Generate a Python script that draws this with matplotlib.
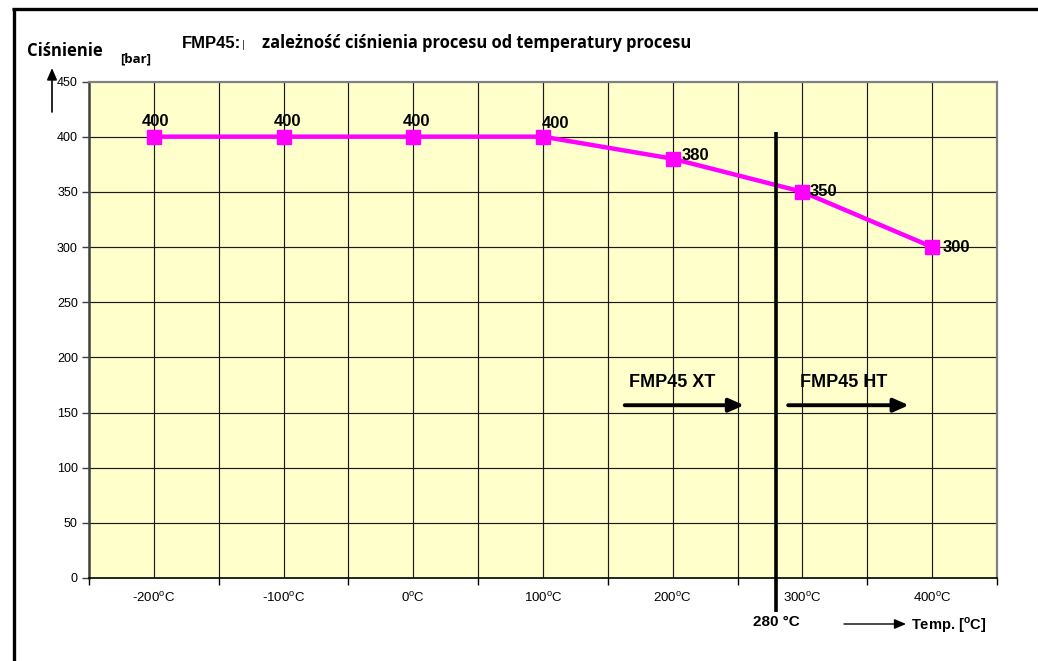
import matplotlib
matplotlib.use("Agg")
import matplotlib.pyplot as plt
from matplotlib.lines import Line2D

# Process pressure vs. process temperature for FMP45
temperatures = [-200, -100, 0, 100, 200, 300, 400]
pressures = [400, 400, 400, 400, 380, 350, 300]
x_tick_values = [-200, -100, 0, 100, 200, 300, 400]
y_tick_values = [0, 50, 100, 150, 200, 250, 300, 350, 400, 450]
limit_temperature = 280

plt.rcParams["font.family"] = ["Liberation Sans", "DejaVu Sans"]
plt.rcParams["mathtext.fontset"] = "custom"
plt.rcParams["mathtext.rm"] = "Liberation Sans"
plt.rcParams["mathtext.bf"] = "Liberation Sans:bold"

W, H = 1038, 661
fig = plt.figure(figsize=(W / 100, H / 100), dpi=100)
fig.patch.set_facecolor("white")

L, R, T, B = 89, 997, 81.5, 578
ax = fig.add_axes([L / W, 1 - B / H, (R - L) / W, (B - T) / H])
ax.set_facecolor("#FFFFCC")
ax.set_xlim(-250, 450)
ax.set_ylim(0, 450)

# grid: every 50 bar and every 50 °C
for yv in y_tick_values[1:-1]:
    ax.axhline(yv, color="#1a1a1a", lw=0.85, zorder=1)
for xv in range(-200, 450, 50):
    ax.axvline(xv, color="#1a1a1a", lw=0.85, zorder=1)

for s in ("top", "right"):
    ax.spines[s].set_color("#808080")
    ax.spines[s].set_linewidth(1.6)
ax.spines["left"].set_color("#404040")
ax.spines["left"].set_linewidth(1.8)
ax.spines["bottom"].set_color("#000000")
ax.spines["bottom"].set_linewidth(1.2)

ax.set_yticks(y_tick_values)
ax.set_yticklabels([str(v) for v in y_tick_values], fontsize=9)
ax.tick_params(axis="y", direction="out", length=5, width=1, color="#404040", pad=3)

# category boundaries carry the x ticks, labels sit at category centres
ax.set_xticks([v + 50 for v in [-300] + x_tick_values])
ax.set_xticklabels([])
ax.tick_params(axis="x", direction="out", length=5, width=1, color="#000000")
for tv in x_tick_values:
    ax.text(tv, -12, f"{tv}" + r"$^{\mathregular{o}}$" + "C", ha="center", va="top",
            fontsize=9.5, transform=ax.transData, clip_on=False)

ax.plot(temperatures, pressures, color="#FF00FF", lw=3.2, marker="s",
        markersize=9.5, markerfacecolor="#FF00FF", markeredgecolor="#FF00FF",
        zorder=5, clip_on=False)

label_offsets = [(2, 15, "center"), (4, 15, "center"), (3, 15, "center"),
                 (13, 13, "center"), (9, 3, "left"), (7, 0, "left"), (10, 0, "left")]
for tv, pv, (dx, dy, ha) in zip(temperatures, pressures, label_offsets):
    ax.annotate(str(pv), (tv, pv), xytext=(dx, dy), textcoords="offset pixels",
                ha=ha, va="center", fontsize=12, fontweight="bold", zorder=6)

# XT / HT boundary
ax.plot([limit_temperature, limit_temperature], [404, -31], color="black", lw=2.6,
        clip_on=False, zorder=7, solid_capstyle="butt")
ax.text(limit_temperature, -40, f"{limit_temperature} °C", ha="center", va="center",
        fontsize=11, fontweight="bold", clip_on=False)

arrow_kw = dict(arrowstyle="-|>,head_length=0.9,head_width=0.4", color="black",
                lw=2.8, shrinkA=0, shrinkB=0)
ax.annotate("", xy=(255, 156.6), xytext=(163, 156.6), arrowprops=arrow_kw, zorder=7)
ax.annotate("", xy=(382, 156.6), xytext=(289, 156.6), arrowprops=arrow_kw, zorder=7)
ax.text(166, 177.5, "FMP45 XT", ha="left", va="center", fontsize=13, fontweight="bold", zorder=7)
ax.text(298, 177.5, "FMP45 HT", ha="left", va="center", fontsize=13, fontweight="bold", zorder=7)

# axis captions in figure pixels
def fx(px):
    return px / W

def fy(py):
    return 1 - py / H

fig.text(fx(182), fy(43), "FMP45:", ha="left", va="center", fontsize=12,
         fontweight="bold", family=["Liberation Sans", "DejaVu Sans"])
fig.text(fx(242), fy(45), "|", ha="left", va="center", fontsize=8, color="#333333")
fig.text(fx(262), fy(43), "zależność ciśnienia procesu od temperatury procesu",
         ha="left", va="center", fontsize=11.9, fontweight="bold",
         family=["Open Sans", "DejaVu Sans"])
fig.text(fx(27), fy(51), "Ciśnienie", ha="left", va="center", fontsize=12,
         fontweight="bold", family=["Open Sans", "DejaVu Sans"])
fig.text(fx(120), fy(59), "[bar]", ha="left", va="center", fontsize=9.5,
         fontweight="bold", family=["Open Sans", "DejaVu Sans"])
fig.add_artist(matplotlib.patches.FancyArrowPatch(
    (fx(52), fy(112)), (fx(52), fy(68)), transform=fig.transFigure,
    arrowstyle="-|>,head_length=7,head_width=3", color="black", lw=1.2,
    shrinkA=0, shrinkB=0))

fig.add_artist(matplotlib.patches.FancyArrowPatch(
    (fx(844), fy(624)), (fx(906), fy(624)), transform=fig.transFigure,
    arrowstyle="-|>,head_length=7,head_width=3", color="black", lw=1.0,
    shrinkA=0, shrinkB=0))
fig.text(fx(911), fy(625), r"Temp. [$^{\mathbf{o}}$C]", ha="left", va="center",
         fontsize=10.5, fontweight="bold")

# outer frame (top and left edges)
fig.add_artist(Line2D([fx(12.3), 1.0], [fy(8.5), fy(8.5)], transform=fig.transFigure,
                      color="black", lw=2.4, solid_capstyle="butt"))
fig.add_artist(Line2D([fx(13.5), fx(13.5)], [fy(7.8), 0.0], transform=fig.transFigure,
                      color="black", lw=2.4, solid_capstyle="butt"))

fig.savefig("out.png", dpi=100)
